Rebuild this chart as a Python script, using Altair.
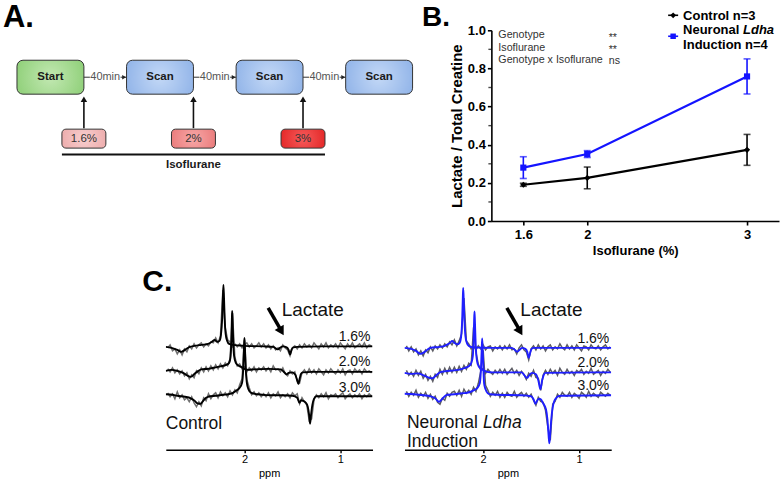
import altair as alt
import numpy as np
import pandas as pd

FONT = "Liberation Sans"

# ---------------- A. imaging protocol ----------------
stages = ["Start", "Scan", "Scan", "Scan"]
gap_label = "40min"
doses = ["1.6%", "2%", "3%"]
dose_title = "Isoflurane"

# ---------------- B. lactate / total creatine ----------------
iso_pct = [1.6, 2.0, 3.0]
ctrl_mean = [0.190, 0.226, 0.373]
ctrl_sem = [0.008, 0.057, 0.081]
ldha_mean = [0.280, 0.351, 0.758]
ldha_sem = [0.057, 0.018, 0.092]
anova_terms = ["Genotype", "Isoflurane", "Genotype x Isoflurane"]
anova_sig = ["**", "**", "ns"]
y_ticks = [0.0, 0.2, 0.4, 0.6, 0.8, 1.0]
y_minor = [0.1, 0.3, 0.5, 0.7, 0.9]

# ---------------- C. edited spectra (stacked, 1.6 / 2.0 / 3.0 %) ----------------
pct_labels = ["1.6%", "2.0%", "3.0%"]
# raw spectra sampled every 0.025 ppm from 2.800 down to 0.675
ctrl16_raw = [-2, 1, -5, -3, -8, -4, -9, -3, -6, 0,
              -3, 2, -2, 1, 3, -1, 2, 0, 4, 3,
              8, 3, 10, 56, 18, 6, 4, -1, 2, -1,
              2, -2, 1, 3, -1, 2, -2, 0, 3, -1,
              2, -2, 1, -3, 0, -4, -2, -5, 1, -2,
              -4, -10, -2, 0, -3, 1, -2, 2, -1, 1,
              -2, 3, 0, -3, 2, -1, 3, -2, 1, -1,
              2, -2, 3, 0, -3, 2, -1, 3, -2, 0,
              2, -1, 3, -2, 1, 0]
ctrl20_raw = [2, -1, 3, -2, 1, -3, 0, -5, -2, -8,
              -4, -7, 0, -3, 3, -1, 4, 0, 5, 1,
              6, 2, 7, 3, 8, 5, 12, 58, 14, 5,
              7, 2, 4, -1, 3, 0, 4, -1, 3, 1,
              4, 0, 3, -1, 5, 1, 2, -1, 3, -3,
              -5, 0, -3, -1, -10, -12, -2, 1, -3, 2,
              -2, 1, -3, 2, -1, -4, 1, -2, 2, -1,
              -3, 1, -2, 2, -4, 0, 1, -3, 2, -1,
              1, -3, 2, -1, 0, -2]
ctrl30_raw = [4, 0, 3, -2, 5, -1, 2, -3, -1, -5,
              0, -6, -10, -5, -9, -1, -4, 3, -2, 2,
              4, -1, 5, 1, 4, 0, 6, 2, 7, 4,
              12, 18, 57, 17, 9, 2, 5, 1, 4, 0,
              3, 0, 4, -1, 3, 1, 5, -1, 2, 0,
              3, -1, 4, 1, 3, -7, -1, -5, -8, -24,
              -22, -3, 2, -1, 3, 0, 4, -2, 2, 1,
              3, -1, 2, 4, -2, 1, 3, -1, 2, 0,
              3, -2, 2, 0, 3, 1]
ldha16_raw = [2, -3, 1, -4, -1, -7, -3, -8, -2, -5,
              1, -3, 2, -1, 3, 0, 4, 1, 6, 3,
              8, 2, 7, 14, 50, 7, 4, -1, 2, -2,
              2, -1, 3, -2, 1, 2, -3, 1, -1, 2,
              -2, 2, -1, 3, -2, -1, -6, 0, 3, -2,
              -4, -12, -1, 2, -2, 3, -1, 2, -3, 1,
              3, -2, 1, -1, 4, 0, -2, 3, -1, 2,
              -2, 3, 0, -3, 2, 1, -2, 3, 0, -1,
              2, -2, 1, 3, -1, 1]
ldha20_raw = [2, -3, 0, -4, 2, -3, 1, -6, -2, -8,
              -4, -9, -2, -5, 3, -2, 4, -1, 5, 0,
              5, 0, 6, 1, 7, 3, 9, 7, 45, 20,
              8, 2, 4, -1, 3, 0, -2, 2, -1, 3,
              -1, 3, -2, 1, 4, -1, 2, -3, 1, -2,
              -7, -1, -4, 2, -5, -6, -18, -3, 2, -2,
              3, -1, 2, -3, 4, 0, -2, 3, -1, 1,
              -3, 2, 0, 3, -2, 1, -1, 4, -2, 0,
              2, -3, 1, -1, 3, 0]
ldha30_raw = [4, -1, 3, 0, 5, -2, 2, -1, 3, -3,
              1, -4, -1, -7, -9, -3, -5, 2, -1, 3,
              4, 0, 5, -1, 6, 2, 5, 1, 8, 4,
              12, 24, 45, 10, 5, -1, 3, 0, 4, -2,
              2, -2, 3, 0, -1, 4, -2, 1, 3, -1,
              2, -2, 1, -5, -10, -2, -6, -7, -15, -32,
              -45, -9, -6, 1, -2, 3, 0, -1, 3, -2,
              2, 0, -3, 3, 1, -2, 4, -1, 2, 0,
              -2, 3, 1, -1, 2, 0]

# model fits (ppm, amplitude)
ctrl16_fit_ppm = [2.82, 2.76, 2.70, 2.66, 2.62, 2.57, 2.52, 2.45, 2.38, 2.34, 2.31, 2.285, 2.26,
                  2.245, 2.232, 2.225, 2.219, 2.213, 2.206, 2.196, 2.18, 2.16, 2.12, 2.0, 1.8,
                  1.70, 1.665, 1.65, 1.63, 1.60, 1.56, 1.54, 1.524, 1.51, 1.49, 1.45, 1.2, 0.665]
ctrl16_fit_val = [-1, -2, -4, -6, -4, -1, 0, 1, 2, 4, 6, 4, 5,
                  11, 28, 48, 61, 48, 27, 12, 5, 2, 1, 0, -0.5,
                  -1, -3, -3.5, -2, -0.5, -1.5, -4, -8.5, -4, -1.5, -1, -0.5, -0.5]
ctrl20_fit_ppm = [2.82, 2.76, 2.70, 2.64, 2.59, 2.56, 2.52, 2.48, 2.45, 2.38, 2.30, 2.25, 2.19,
                  2.16, 2.145, 2.136, 2.131, 2.128, 2.124, 2.118, 2.108, 2.09, 2.06, 2.034, 1.99,
                  1.96, 1.90, 1.75, 1.62, 1.58, 1.56, 1.54, 1.50, 1.47, 1.455, 1.4375, 1.425,
                  1.41, 1.39, 1.3, 1.0, 0.665]
ctrl20_fit_val = [0, 1, 0, -2, -5, -6, -3, 0, 1.5, 2, 3.5, 4.5, 6,
                  8, 14, 32, 52, 60, 52, 32, 15, 8, 5, 4, 1.5,
                  1, 1.5, 2, 1.5, -2, -3.5, -2, -1.5, -4, -8, -13, -8,
                  -3, -1.5, -1, -1, -1]
ctrl30_fit_ppm = [2.82, 2.75, 2.70, 2.62, 2.56, 2.52, 2.49, 2.458, 2.43, 2.40, 2.38, 2.30, 2.22,
                  2.17, 2.12, 2.087, 2.05, 2.025, 2.012, 2.005, 2.0, 1.995, 1.988, 1.975, 1.96,
                  1.93, 1.86, 1.77, 1.60, 1.50, 1.45, 1.427, 1.41, 1.39, 1.36, 1.34, 1.326,
                  1.316, 1.306, 1.292, 1.275, 1.25, 1.15, 0.665]
ctrl30_fit_val = [2.5, 2, 1, 0, -1.5, -4, -6.5, -7, -4, -1, 0, 1, 2,
                  2.5, 4, 6, 9, 14, 30, 50, 59, 50, 30, 14, 8,
                  4, 2.5, 1.7, 1.5, 1, -1, -6, -3.5, -4, -6, -10, -18,
                  -27, -18, -8, -2, 0.5, 0.5, 0.5]
ldha16_fit_ppm = [2.82, 2.75, 2.70, 2.653, 2.61, 2.57, 2.55, 2.45, 2.40, 2.375, 2.345, 2.323,
                  2.30, 2.27, 2.245, 2.23, 2.218, 2.212, 2.208, 2.203, 2.196, 2.185, 2.17, 2.15,
                  2.10, 1.9, 1.70, 1.67, 1.646, 1.62, 1.594, 1.56, 1.54, 1.525, 1.51, 1.495,
                  1.47, 0.665]
ldha16_fit_val = [0, -1, -3, -6, -4, -1, 0, 1, 2, 3.3, 5, 7,
                  5, 3.5, 5, 11, 30, 50, 60, 50, 30, 12, 5, 2,
                  0.5, 0, 0, -2, -4, -2, 0, -1, -4, -10, -5, -1,
                  0, 0]
ldha20_fit_ppm = [2.82, 2.75, 2.68, 2.62, 2.56, 2.53, 2.49, 2.45, 2.40, 2.30, 2.236, 2.19, 2.15,
                  2.125, 2.108, 2.099, 2.094, 2.09, 2.086, 2.08, 2.07, 2.056, 2.03, 1.993, 1.96,
                  1.9, 1.60, 1.57, 1.542, 1.52, 1.49, 1.45, 1.425, 1.403, 1.385, 1.37, 1.35, 0.665]
ldha20_fit_val = [-0.5, -1.5, -1, -3, -5.5, -6, -3, 0, 1, 2, 3, 4.5, 6,
                  9, 16, 34, 52, 61, 52, 34, 16, 8, 4, 2, 0.5,
                  0, 0, -3, -5.5, -3, -0.5, -2, -8, -17, -8, -3, -0.5, 0]
ldha30_fit_ppm = [2.82, 2.72, 2.62, 2.55, 2.50, 2.46, 2.43, 2.40, 2.375, 2.30, 2.22, 2.167, 2.10,
                  2.06, 2.035, 2.022, 2.015, 2.01, 2.005, 1.998, 1.99, 1.975, 1.95, 1.93, 1.85,
                  1.60, 1.50, 1.475, 1.455, 1.435, 1.415, 1.40, 1.375, 1.345, 1.33, 1.318, 1.31,
                  1.302, 1.29, 1.275, 1.255, 1.24, 1.22, 1.19, 0.665]
ldha30_fit_val = [1.5, 1, 0, -1, -3, -6.5, -4, -1, 0.5, 1, 2, 2.5, 5,
                  7.5, 12, 28, 46, 57, 46, 28, 12, 6, 2, 1, 0.5,
                  0, -1, -4, -8.5, -5, -3.5, -4, -8, -14, -24, -40, -48,
                  -40, -24, -12, -5, -3, -1, -0.5, 0]

one = pd.DataFrame({"k": [0]})


def txt(s, x, y, align="left", baseline="alphabetic", **kw):
    return alt.Chart(one).mark_text(text=s, align=align, baseline=baseline, **kw).encode(
        x=alt.value(x), y=alt.value(y))


def spacer(w, h):
    # an invisible point in the middle keeps the block's bounds inside its own box
    return alt.Chart(one).mark_point(opacity=0, size=1).encode(
        x=alt.value(w / 2), y=alt.value(h / 2)).properties(width=w, height=h)


def radial(inner, outer):
    return {"gradient": "radial", "x1": 0.5, "y1": 0.5, "r1": 0, "x2": 0.5, "y2": 0.5, "r2": 0.75,
            "stops": [{"offset": 0, "color": inner}, {"offset": 1, "color": outer}]}


# ======================= panel A =======================
W_A, H_TOP = 491, 262
STEP_PX, FIRST_PX = 109.7, 49.5
a_scale = alt.Scale(domain=[-FIRST_PX / STEP_PX, (W_A - FIRST_PX) / STEP_PX], nice=False, zero=False)
BOX_HALF = 33.5 / STEP_PX
DOSE_HALF = 22 / STEP_PX
ROW_Y, ROW_TOP, ROW_BOT = 76, 59, 93
DOSE_TOP, DOSE_BOT = 128, 147


def ax(field):
    return alt.X(field, scale=a_scale, axis=None)


stage_df = pd.DataFrame({"stage": stages, "pos": np.arange(len(stages))})
stage_df["x1"] = stage_df["pos"] - BOX_HALF
stage_df["x2"] = stage_df["pos"] + BOX_HALF


def boxes(df, fill, y1, y2, radius):
    return alt.Chart(df).mark_rect(fill=fill, stroke="#333333", strokeWidth=1,
                                   cornerRadius=radius).encode(
        x=ax("x1:Q"), x2="x2:Q", y=alt.value(y1), y2=alt.value(y2))


a_layers = [
    boxes(stage_df[stage_df.stage == "Start"], radial("#c2e8b2", "#7cc663"), ROW_TOP, ROW_BOT, 6),
    boxes(stage_df[stage_df.stage == "Scan"], radial("#c3d8f6", "#7ea6e3"), ROW_TOP, ROW_BOT, 6),
    alt.Chart(stage_df).mark_text(fontWeight="bold", fontSize=11.5, color="#1a1a1a").encode(
        x=ax("pos:Q"), y=alt.value(ROW_Y), text="stage:N"),
]

gap_df = pd.DataFrame({"pos": np.arange(len(stages) - 1)})
gap_df["label"] = gap_label
gap_df["a1"] = gap_df["pos"] + BOX_HALF
gap_df["a2"] = gap_df["pos"] + 0.36
gap_df["b1"] = gap_df["pos"] + 0.64
gap_df["b2"] = gap_df["pos"] + 1 - BOX_HALF
gap_df["mid"] = gap_df["pos"] + 0.5
gap_df["head"] = gap_df["pos"] + 1 - BOX_HALF - 0.022
a_layers += [
    alt.Chart(gap_df).mark_rule(color="#333333", strokeWidth=1).encode(
        x=ax("a1:Q"), x2="a2:Q", y=alt.value(ROW_Y)),
    alt.Chart(gap_df).mark_rule(color="#333333", strokeWidth=1).encode(
        x=ax("b1:Q"), x2="b2:Q", y=alt.value(ROW_Y)),
    alt.Chart(gap_df).mark_point(shape="triangle-right", filled=True, size=20, color="#222222",
                                 opacity=1).encode(x=ax("head:Q"), y=alt.value(ROW_Y)),
    alt.Chart(gap_df).mark_text(fontSize=11, color="#555555").encode(
        x=ax("mid:Q"), y=alt.value(ROW_Y), text="label:N"),
]

dose_df = pd.DataFrame({"dose": doses, "pos": np.arange(len(doses))})
dose_df["cx"] = dose_df["pos"] + BOX_HALF
dose_df["x1"] = dose_df["cx"] - DOSE_HALF
dose_df["x2"] = dose_df["cx"] + DOSE_HALF
dose_fills = [radial("#f8cece", "#e89e9e"), radial("#f7a7a7", "#e56a6a"), radial("#f65a5a", "#dc1212")]
for i, f in enumerate(dose_fills):
    a_layers.append(boxes(dose_df.iloc[[i]], f, DOSE_TOP, DOSE_BOT, 4))
a_layers += [
    alt.Chart(dose_df).mark_text(fontSize=11.5, color="#333333").encode(
        x=ax("cx:Q"), y=alt.value((DOSE_TOP + DOSE_BOT) / 2), text="dose:N"),
    alt.Chart(dose_df).mark_rule(color="#111111", strokeWidth=1.6).encode(
        x=ax("cx:Q"), y=alt.value(DOSE_TOP - 1), y2=alt.value(ROW_BOT + 6)),
    alt.Chart(dose_df).mark_point(shape="triangle-up", filled=True, size=42, color="#111111",
                                  opacity=1).encode(x=ax("cx:Q"), y=alt.value(ROW_BOT + 5)),
]
span_df = pd.DataFrame({"x1": [dose_df["x1"].min()], "x2": [dose_df["x2"].max()],
                        "label": [dose_title]})
span_df["mid"] = (span_df["x1"] + span_df["x2"]) / 2
a_layers += [
    alt.Chart(span_df).mark_rule(color="#111111", strokeWidth=2).encode(
        x=ax("x1:Q"), x2="x2:Q", y=alt.value(153.5)),
    alt.Chart(span_df).mark_text(fontSize=11.5, fontWeight="bold", color="#1a1a1a").encode(
        x=ax("mid:Q"), y=alt.value(164), text="label:N"),
    txt("A.", 2, 26, fontSize=31, fontWeight="bold", color="#000000"),
]
chart_a = alt.layer(*a_layers).properties(width=W_A, height=H_TOP)

# ======================= panel B =======================
W_B, H_B = 288, 191
b_df = pd.DataFrame({
    "iso": iso_pct * 2,
    "mean": ctrl_mean + ldha_mean,
    "sem": ctrl_sem + ldha_sem,
    "group": ["Control"] * 3 + ["Ldha"] * 3,
})
b_df["lo"] = b_df["mean"] - b_df["sem"]
b_df["hi"] = b_df["mean"] + b_df["sem"]

b_col_scale = alt.Scale(domain=["Control", "Ldha"], range=["#000000", "#1414ff"])
b_shape_scale = alt.Scale(domain=["Control", "Ldha"], range=["diamond", "square"])
b_xscale = alt.Scale(domain=[1.4, 3.2], nice=False, zero=False)
b_yscale = alt.Scale(domain=[0, 1], nice=False)
axis_common = dict(labelFont=FONT, labelFontWeight="bold", labelColor="#000000",
                   titleFont=FONT, titleFontWeight="bold", titleColor="#000000",
                   domainColor="#000000", tickColor="#000000", domainWidth=1.6, tickWidth=1.6,
                   grid=False)
b_xaxis = alt.Axis(values=iso_pct, format="~g", title="Isoflurane (%)", labelFontSize=13,
                   titleFontSize=13, tickSize=4, labelPadding=3, titlePadding=4, **axis_common)
b_yaxis = alt.Axis(values=y_ticks, format=".1f", title="Lactate / Total Creatine",
                   labelFontSize=13, titleFontSize=15, tickSize=4, labelPadding=2,
                   titlePadding=3, **axis_common)


def bx(f):
    return alt.X(f, scale=b_xscale, axis=b_xaxis)


def by(f):
    return alt.Y(f, scale=b_yscale, axis=b_yaxis)


bcol = alt.Color("group:N", scale=b_col_scale, legend=None)
bbase = alt.Chart(b_df)
b_layers = [
    alt.Chart(pd.DataFrame({"m": y_minor})).mark_tick(
        orient="horizontal", size=3, thickness=1.4, color="#000000").encode(
        y=by("m:Q"), x=alt.value(-1.5)),
    bbase.mark_line(strokeWidth=2.2).encode(x=bx("iso:Q"), y=by("mean:Q"), color=bcol),
    bbase.mark_rule(strokeWidth=1.6).encode(x=bx("iso:Q"), y=by("lo:Q"), y2="hi:Q", color=bcol),
    bbase.mark_tick(orient="horizontal", size=7, thickness=1.6).encode(
        x=bx("iso:Q"), y=by("lo:Q"), color=bcol),
    bbase.mark_tick(orient="horizontal", size=7, thickness=1.6).encode(
        x=bx("iso:Q"), y=by("hi:Q"), color=bcol),
    bbase.mark_point(filled=True, size=38, opacity=1).encode(
        x=bx("iso:Q"), y=by("mean:Q"), color=bcol,
        shape=alt.Shape("group:N", scale=b_shape_scale, legend=None)),
]

anova_df = pd.DataFrame({"term": anova_terms, "sig": anova_sig})
anova_df["py"] = 8 + 12.5 * np.arange(len(anova_terms))
anova_df["sy"] = anova_df["py"] + np.where(anova_df["sig"] == "**", 2.5, 0.5)
b_layers += [
    alt.Chart(anova_df).mark_text(align="left", baseline="alphabetic", fontSize=10.7,
                                  color="#333333").encode(
        x=alt.value(7), y=alt.Y("py:Q", scale=None), text="term:N"),
    alt.Chart(anova_df).mark_text(align="left", baseline="alphabetic", fontSize=10.7,
                                  color="#333333").encode(
        x=alt.value(117.5), y=alt.Y("sy:Q", scale=None), text="sig:N"),
]

# key in the top-right corner
LEG_X = 177
b_layers += [
    alt.Chart(one).mark_rule(color="#000000", strokeWidth=1.6).encode(
        x=alt.value(LEG_X), x2=alt.value(LEG_X + 10), y=alt.value(-15)),
    alt.Chart(one).mark_point(shape="diamond", filled=True, size=34, color="#000000",
                              opacity=1).encode(x=alt.value(LEG_X + 5), y=alt.value(-15)),
    alt.Chart(one).mark_rule(color="#1414ff", strokeWidth=1.6).encode(
        x=alt.value(LEG_X), x2=alt.value(LEG_X + 10), y=alt.value(6)),
    alt.Chart(one).mark_point(shape="square", filled=True, size=30, color="#1414ff",
                              opacity=1).encode(x=alt.value(LEG_X + 5), y=alt.value(6)),
    txt("Control n=3", LEG_X + 15, -10.5, fontSize=13, fontWeight="bold", color="#000000"),
    txt("Neuronal ", LEG_X + 15, 4, fontSize=13, fontWeight="bold", color="#000000"),
    txt("Ldha", LEG_X + 15 + 60, 4, fontSize=13, fontWeight="bold", fontStyle="italic",
        color="#000000"),
    txt("Induction n=4", LEG_X + 15, 18.5, fontSize=13, fontWeight="bold", color="#000000"),
    txt("B.", -69.5, -4, fontSize=28, fontWeight="bold", color="#000000"),
]
chart_b = alt.layer(*b_layers).properties(width=W_B, height=H_B)

# ======================= panel C =======================
W_C, H_C = 207, 185
raw_ppm = np.round(2.8 - 0.025 * np.arange(len(ctrl16_raw)), 3)
traces = [
    ("ctrl", "1.6%", 104.0, ctrl16_raw, ctrl16_fit_ppm, ctrl16_fit_val),
    ("ctrl", "2.0%", 79.0, ctrl20_raw, ctrl20_fit_ppm, ctrl20_fit_val),
    ("ctrl", "3.0%", 53.0, ctrl30_raw, ctrl30_fit_ppm, ctrl30_fit_val),
    ("ldha", "1.6%", 102.0, ldha16_raw, ldha16_fit_ppm, ldha16_fit_val),
    ("ldha", "2.0%", 77.5, ldha20_raw, ldha20_fit_ppm, ldha20_fit_val),
    ("ldha", "3.0%", 54.5, ldha30_raw, ldha30_fit_ppm, ldha30_fit_val),
]
raw_rows, fit_rows, lab_rows = [], [], []
for panel, lab, off, raw, fppm, fval in traces:
    raw_rows.append(pd.DataFrame({"panel": panel, "trace": lab, "ppm": raw_ppm,
                                  "y": np.array(raw, float) + off}))
    fit_rows.append(pd.DataFrame({"panel": panel, "trace": lab, "ppm": fppm,
                                  "y": np.array(fval, float) + off}))
    lab_rows.append({"panel": panel, "label": lab, "y": off + 5})
raw_df = pd.concat(raw_rows, ignore_index=True)
fit_df = pd.concat(fit_rows, ignore_index=True)
lab_df = pd.DataFrame(lab_rows)

c_xscale = alt.Scale(domain=[0.665, 2.82], reverse=True, nice=False, zero=False)
c_yscale = alt.Scale(domain=[0, H_C], nice=False, zero=False)
c_xaxis = alt.Axis(values=[2, 1], format="d", title="ppm", labelFont=FONT, labelFontSize=11,
                   labelColor="#000000", titleFont=FONT, titleFontSize=11,
                   titleFontWeight="normal", titleColor="#000000", domainColor="#000000",
                   tickColor="#000000", domainWidth=1.6, tickWidth=1.4, tickSize=3,
                   labelPadding=1, titlePadding=3, grid=False)


def spectra(panel, fit_color, raw_color, caption_layers):
    cx = alt.X("ppm:Q", scale=c_xscale, axis=c_xaxis)
    layers = [
        alt.Chart(raw_df[raw_df.panel == panel]).mark_line(
            color=raw_color, strokeWidth=1.5, clip=True).encode(
            x=cx, y=alt.Y("y:Q", scale=c_yscale, axis=None), detail="trace:N"),
        alt.Chart(fit_df[fit_df.panel == panel]).mark_line(
            color=fit_color, strokeWidth=1.9, interpolate="monotone", clip=True).encode(
            x=cx, y=alt.Y("y:Q", scale=c_yscale, axis=None), detail="trace:N"),
        alt.Chart(lab_df[lab_df.panel == panel]).mark_text(
            align="right", baseline="alphabetic", fontSize=14, color="#111111").encode(
            x=alt.value(W_C - 2), y=alt.Y("y:Q", scale=c_yscale, axis=None), text="label:N"),
        txt("Lactate", 116, 50.7, fontSize=19, color="#111111"),
        alt.Chart(one).mark_rule(color="#000000", strokeWidth=3.5).encode(
            x=alt.value(102.5), x2=alt.value(114), y=alt.value(43), y2=alt.value(63)),
        alt.Chart(one).mark_point(shape="triangle-down", angle=330, filled=True, size=110,
                                  color="#000000", opacity=1).encode(
            x=alt.value(115.8), y=alt.value(66.5)),
    ]
    return alt.layer(*(layers + caption_layers)).properties(width=W_C, height=H_C)


c_ctrl = spectra("ctrl", "#000000", "#707070", [
    txt("Control", 0, 164.7, fontSize=17.5, color="#111111"),
    txt("C.", -23.5, 26, fontSize=30, fontWeight="bold", color="#000000"),
])
c_ldha = spectra("ldha", "#1f1fff", "#5c5c64", [
    txt("Neuronal ", 2.5, 163, fontSize=17.5, color="#111111"),
    txt("Ldha", 78.5, 163, fontSize=17.5, fontStyle="italic", color="#111111"),
    txt("Induction", 2.5, 182, fontSize=17.5, color="#111111"),
])

# ======================= assembly =======================
b_column = alt.vconcat(spacer(W_B, 29), chart_b, spacing=0, bounds="flush")
top_row = alt.hconcat(chart_a, b_column, spacing=0, bounds="flush")
bottom_row = alt.hconcat(spacer(133, H_C), c_ctrl, c_ldha, spacing=32, bounds="flush")
chart = (
    alt.vconcat(top_row, bottom_row, spacing=0, bounds="full")
    .properties(padding=0, background="#ffffff")
    .configure(font=FONT)
    .configure_view(stroke="transparent")
)
chart.save("out.html", embed_options={"renderer": "svg", "actions": False})
